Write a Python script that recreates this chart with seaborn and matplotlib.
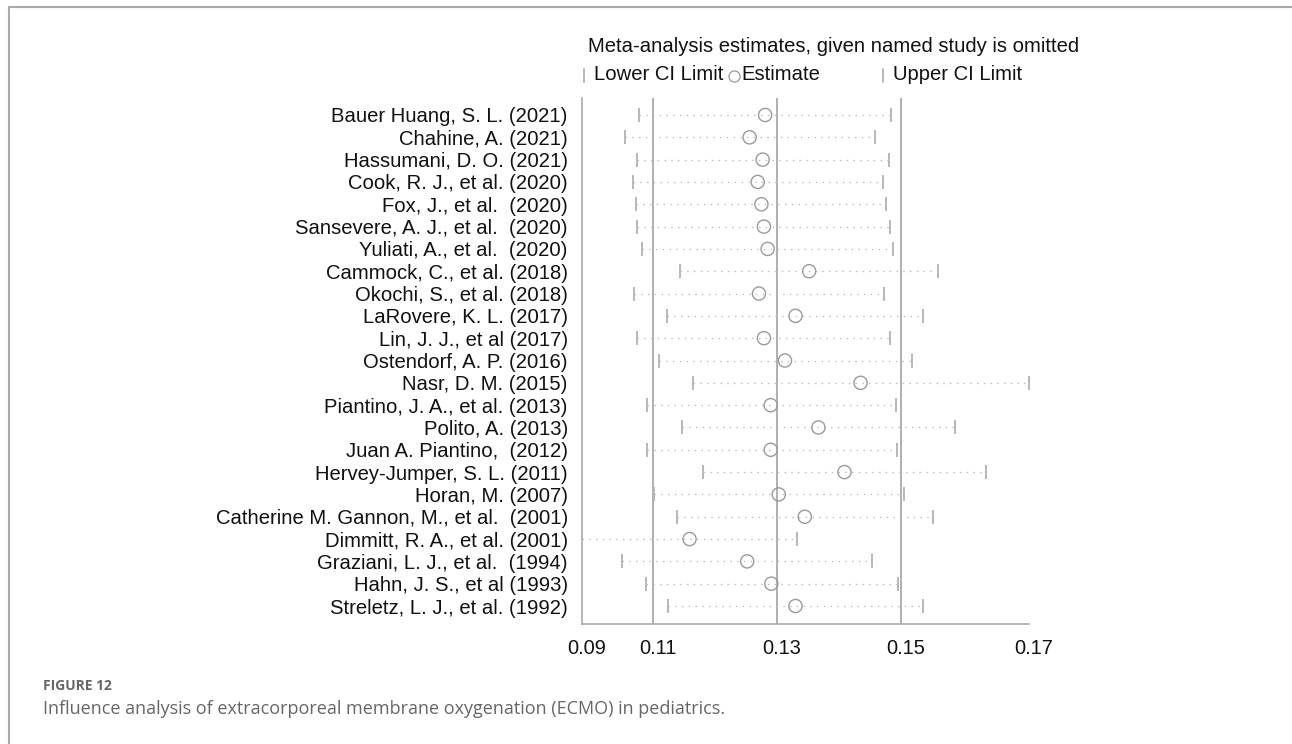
import numpy as np
import pandas as pd
import matplotlib
matplotlib.use("Agg")
import matplotlib.pyplot as plt
import matplotlib.transforms as mtransforms
from matplotlib.lines import Line2D
import seaborn as sns

# ---------------- data ----------------
studies = [
    "Bauer Huang, S. L. (2021)",
    "Chahine, A. (2021)",
    "Hassumani, D. O. (2021)",
    "Cook, R. J., et al. (2020)",
    "Fox, J., et al.  (2020)",
    "Sansevere, A. J., et al.  (2020)",
    "Yuliati, A., et al.  (2020)",
    "Cammock, C., et al. (2018)",
    "Okochi, S., et al. (2018)",
    "LaRovere, K. L. (2017)",
    "Lin, J. J., et al (2017)",
    "Ostendorf, A. P. (2016)",
    "Nasr, D. M. (2015)",
    "Piantino, J. A., et al. (2013)",
    "Polito, A. (2013)",
    "Juan A. Piantino,  (2012)",
    "Hervey-Jumper, S. L. (2011)",
    "Horan, M. (2007)",
    "Catherine M. Gannon, M., et al.  (2001)",
    "Dimmitt, R. A., et al. (2001)",
    "Graziani, L. J., et al.  (1994)",
    "Hahn, J. S., et al (1993)",
    "Streletz, L. J., et al. (1992)",
]
estimate = [0.1281, 0.1256, 0.1277, 0.1269, 0.1275, 0.1279, 0.1285, 0.1352,
            0.1271, 0.1330, 0.1279, 0.1313, 0.1435, 0.1290, 0.1367, 0.1290,
            0.1409, 0.1303, 0.1345, 0.1159, 0.1252, 0.1291, 0.1330]
lower_ci = [0.1078, 0.1055, 0.1074, 0.1067, 0.1073, 0.1075, 0.1083, 0.1144,
            0.1069, 0.1123, 0.1075, 0.1109, 0.1165, 0.1090, 0.1147, 0.1090,
            0.1181, 0.1101, 0.1138, 0.0985, 0.1050, 0.1088, 0.1124]
upper_ci = [0.1484, 0.1458, 0.1481, 0.1471, 0.1476, 0.1483, 0.1488, 0.1560,
            0.1473, 0.1536, 0.1482, 0.1518, 0.1706, 0.1492, 0.1588, 0.1493,
            0.1638, 0.1505, 0.1552, 0.1332, 0.1454, 0.1495, 0.1536]
overall_lines = [0.110, 0.130, 0.150]          # overall lower CI, estimate, upper CI
x_tick_values = [0.0985, 0.110, 0.130, 0.150, 0.1706]
x_tick_labels = ["0.09", "0.11", "0.13", "0.15", "0.17"]

title_text = "Meta-analysis estimates, given named study is omitted"
legend_labels = ["Lower CI Limit", "Estimate", "Upper CI Limit"]
fig_label = "FIGURE 12"
caption = "Influence analysis of extracorporeal membrane oxygenation (ECMO) in pediatrics."

df = pd.DataFrame({"study": studies, "est": estimate, "lo": lower_ci, "hi": upper_ci})
df["pos"] = np.arange(len(df))

# ---------------- style ----------------
sns.set_theme(style="white")
plt.rcParams["font.family"] = ["Liberation Sans", "DejaVu Sans"]

W, H = 1292, 744
fig = plt.figure(figsize=(W / 100, H / 100), dpi=100)
ax = fig.add_axes([581.7 / W, 1 - 624 / H, (1028.5 - 581.7) / W, (624 - 97.7) / H])

line_grey = "#9a9a9a"
cap_grey = "#b8b8b8"
dot_grey = "#bdbdbd"
circ_grey = "#9a9a9a"

# overall vertical reference lines
for v in overall_lines:
    ax.axvline(v, color=line_grey, lw=1.1, zorder=1)

# dotted CI lines
ax.hlines(df["pos"], df["lo"], df["hi"], colors=dot_grey, linestyles=(0, (1.2, 4.2)),
          lw=0.9, zorder=2)
# CI caps
ax.plot(df["lo"], df["pos"], ls="none", marker="|", ms=10, mew=1.4, color=cap_grey, zorder=3)
ax.plot(df["hi"], df["pos"], ls="none", marker="|", ms=10, mew=1.4, color=cap_grey, zorder=3)

# estimates
sns.scatterplot(data=df, x="est", y="pos", ax=ax, s=90, marker="o",
                facecolors="none", edgecolor=circ_grey, linewidth=1.0, zorder=4)

ax.set_xlim(0.0985, 0.17056)
n = len(df)
ax.set_ylim(n - 1 + 0.806, -0.775)
ax.set_yticks(df["pos"])
ax.set_yticklabels(df["study"], fontsize=14.6, color="#111111")
ax.tick_params(axis="y", length=0, pad=10)
ax.set_xticks(x_tick_values)
ax.set_xticklabels(x_tick_labels, fontsize=14.4, color="#111111")
ax.tick_params(axis="x", length=4.5, width=1.0, color="#aaaaaa", pad=6, direction="out")
offset = mtransforms.ScaledTranslation(5 / 100, 0, fig.dpi_scale_trans)
for lab in ax.get_xticklabels():
    lab.set_transform(lab.get_transform() + offset)
ax.set_xlabel("")
ax.set_ylabel("")
for side in ["top", "right"]:
    ax.spines[side].set_visible(False)
for side in ["left", "bottom"]:
    ax.spines[side].set_color("#aaaaaa")
    ax.spines[side].set_linewidth(1.2)
ax.grid(False)

# ---------------- title & legend ----------------
def fx(px):
    return px / W

def fy(py):
    return 1 - py / H

fig.text(fx(588), fy(47), title_text, fontsize=14.6, color="#111111", va="center", ha="left")
legend_y = 75
fig.add_artist(Line2D([fx(584), fx(584)], [fy(69), fy(82)], color=cap_grey, lw=1.4))
fig.text(fx(594), fy(legend_y), legend_labels[0], fontsize=14.6, color="#111111", va="center", ha="left")
fig.add_artist(Line2D([fx(734)], [fy(legend_y + 1)], marker="o", ms=8, mfc="none",
                      mec=circ_grey, mew=0.9, ls="none"))
fig.text(fx(741), fy(legend_y), legend_labels[1], fontsize=14.6, color="#111111", va="center", ha="left")
fig.add_artist(Line2D([fx(883), fx(883)], [fy(69), fy(82)], color=cap_grey, lw=1.4))
fig.text(fx(893), fy(legend_y), legend_labels[2], fontsize=14.6, color="#111111", va="center", ha="left")

# ---------------- frame & caption ----------------
fig.add_artist(Line2D([fx(9), fx(W)], [fy(7), fy(7)], color="#aaaaaa", lw=1.5))
fig.add_artist(Line2D([fx(9), fx(9)], [fy(7), fy(H)], color="#aaaaaa", lw=1.5))
fig.text(fx(43), fy(686), fig_label, fontsize=10, fontweight="bold", color="#666666",
         family=["Open Sans", "DejaVu Sans"], va="center", ha="left")
fig.text(fx(43), fy(709), caption, fontsize=13, color="#666666",
         family=["Open Sans", "DejaVu Sans"], va="center", ha="left")

fig.savefig("out.png", dpi=100, facecolor="white")
